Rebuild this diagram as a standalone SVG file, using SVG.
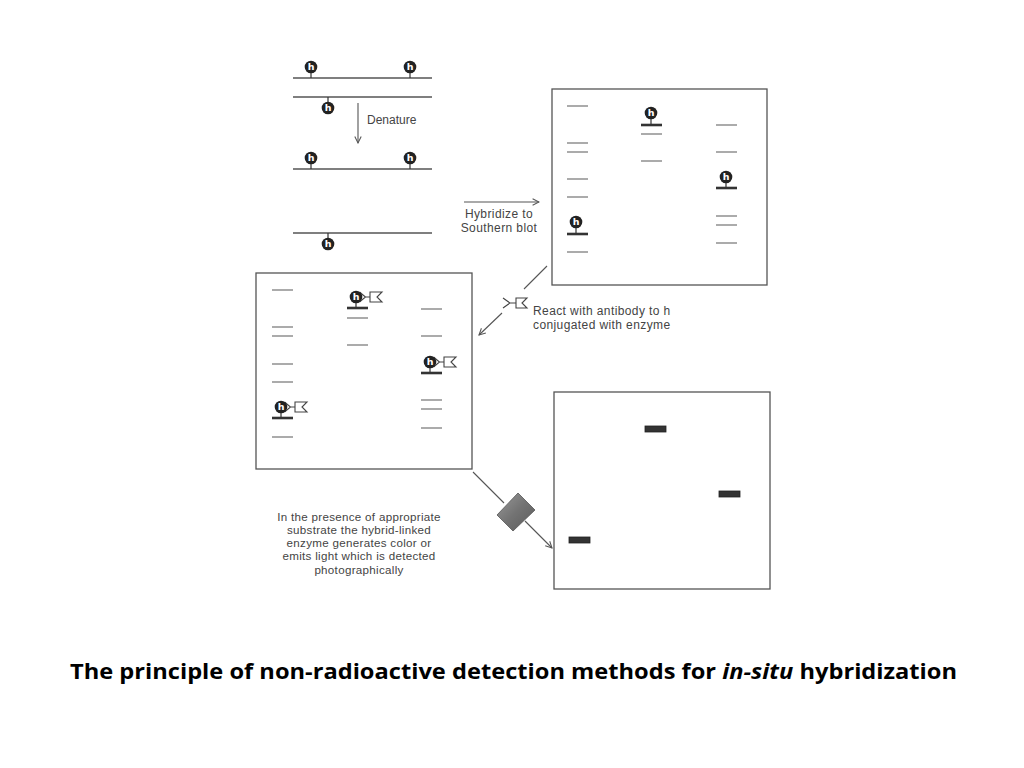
<svg xmlns="http://www.w3.org/2000/svg" xmlns:xlink="http://www.w3.org/1999/xlink" width="1024" height="768" viewBox="0 0 1024 768">
<style>
.strand{stroke:#555;stroke-width:1.3;fill:none}
.stem{stroke:#333;stroke-width:1.2}
.band{stroke:#666;stroke-width:1.1}
.thick{stroke:#333;stroke-width:2.6}
.blot{fill:#fff;stroke:#555;stroke-width:1.3}
.conn{stroke:#555;stroke-width:1.1;fill:none}
.lbl{font-family:"Liberation Sans",Arial,sans-serif;font-size:12px;fill:#444}
.lbl2{font-family:"Liberation Sans",Arial,sans-serif;font-size:11.6px;fill:#444}
.cap{font-family:"Open Sans","Liberation Sans",sans-serif;font-size:22px;font-weight:bold;fill:#000}
.ab{stroke:#444;stroke-width:1.1;fill:#fff}
.spot{fill:#333;stroke:#222;stroke-width:0.8}
</style>
<defs>
<g id="h">
<circle r="6.3" fill="#222"/>
<text y="3.4" text-anchor="middle" font-family="'DejaVu Sans',sans-serif" font-size="9.5" font-weight="bold" fill="#fff">h</text>
</g>
<g id="abz">
<path d="M3.5,-5 L9.5,0 L3.5,5 M9.5,0 H14" class="ab" fill="none"/>
<path d="M14,-5 H26 L21,0 L26,5 H14 Z" class="ab"/>
</g>
<marker id="arr" viewBox="0 0 10 10" refX="9" refY="5" markerWidth="8" markerHeight="8" orient="auto" markerUnits="userSpaceOnUse">
<path d="M1,1 L9,5 L1,9" fill="none" stroke="#555" stroke-width="1.3"/>
</marker>
<linearGradient id="dg" x1="0" y1="0" x2="1" y2="1">
<stop offset="0" stop-color="#9a9a9a"/>
<stop offset="0.5" stop-color="#737373"/>
<stop offset="1" stop-color="#5a5a5a"/>
</linearGradient>
</defs>

<g id="dna-double">
<line class="strand" x1="293" y1="78" x2="432" y2="78"/>
<line class="stem" x1="311" y1="73" x2="311" y2="78"/>
<use xlink:href="#h" x="311" y="67"/>
<line class="stem" x1="410" y1="73" x2="410" y2="78"/>
<use xlink:href="#h" x="410" y="67"/>
<line class="strand" x1="293" y1="97" x2="432" y2="97"/>
<line class="stem" x1="328" y1="97" x2="328" y2="102"/>
<use xlink:href="#h" x="328" y="108"/>
</g>

<g id="denature">
<text class="lbl" x="367" y="124">Denature</text>
</g>

<g id="strand-a">
<line class="strand" x1="293" y1="169" x2="432" y2="169"/>
<line class="stem" x1="311" y1="164" x2="311" y2="169"/>
<use xlink:href="#h" x="311" y="158"/>
<line class="stem" x1="410" y1="164" x2="410" y2="169"/>
<use xlink:href="#h" x="410" y="158"/>
</g>

<g id="strand-b">
<line class="strand" x1="293" y1="233" x2="432" y2="233"/>
<line class="stem" x1="328" y1="233" x2="328" y2="238"/>
<use xlink:href="#h" x="328" y="244"/>
</g>

<g id="hybridize-label">
<text class="lbl" x="499" y="218" text-anchor="middle" letter-spacing="0.4">Hybridize to</text>
<text class="lbl" x="499" y="232" text-anchor="middle" letter-spacing="0.4">Southern blot</text>
</g>

<g id="blot-hybridized">
<rect class="blot" x="552" y="89" width="215" height="196"/>
<line class="band" x1="567" y1="106" x2="588" y2="106"/>
<line class="band" x1="567" y1="143" x2="588" y2="143"/>
<line class="band" x1="567" y1="152" x2="588" y2="152"/>
<line class="band" x1="567" y1="179" x2="588" y2="179"/>
<line class="band" x1="567" y1="197" x2="588" y2="197"/>
<line class="thick" x1="567" y1="234" x2="588" y2="234"/>
<line class="stem" x1="576" y1="228" x2="576" y2="234"/>
<use xlink:href="#h" x="576" y="222"/>
<line class="band" x1="567" y1="252" x2="588" y2="252"/>
<line class="thick" x1="641" y1="125" x2="662" y2="125"/>
<line class="stem" x1="651" y1="119" x2="651" y2="125"/>
<use xlink:href="#h" x="651" y="113"/>
<line class="band" x1="641" y1="134" x2="662" y2="134"/>
<line class="band" x1="641" y1="161" x2="662" y2="161"/>
<line class="band" x1="716" y1="125" x2="737" y2="125"/>
<line class="band" x1="716" y1="152" x2="737" y2="152"/>
<line class="thick" x1="716" y1="188" x2="737" y2="188"/>
<line class="stem" x1="726" y1="182" x2="726" y2="188"/>
<use xlink:href="#h" x="726" y="177"/>
<line class="band" x1="716" y1="216" x2="737" y2="216"/>
<line class="band" x1="716" y1="225" x2="737" y2="225"/>
<line class="band" x1="716" y1="243" x2="737" y2="243"/>
</g>

<g id="antibody-label">
<path d="M503,298 L510,303 L503,308 M510,303 H516" class="ab" fill="none"/>
<path d="M516,298 H527 L522,303 L527,308 H516 Z" class="ab"/>
<text class="lbl" x="533" y="315" letter-spacing="0.4">React with antibody to h</text>
<text class="lbl" x="533" y="329" letter-spacing="0.4">conjugated with enzyme</text>
</g>

<g id="blot-antibody">
<rect class="blot" x="256" y="273" width="216" height="196"/>
<line class="band" x1="272" y1="290" x2="293" y2="290"/>
<line class="band" x1="272" y1="327" x2="293" y2="327"/>
<line class="band" x1="272" y1="336" x2="293" y2="336"/>
<line class="band" x1="272" y1="364" x2="293" y2="364"/>
<line class="band" x1="272" y1="382" x2="293" y2="382"/>
<line class="thick" x1="272" y1="418" x2="293" y2="418"/>
<line class="stem" x1="281" y1="413" x2="281" y2="418"/>
<use xlink:href="#abz" x="281" y="407"/>
<use xlink:href="#h" x="281" y="407"/>
<line class="band" x1="272" y1="437" x2="293" y2="437"/>
<line class="thick" x1="347" y1="308" x2="368" y2="308"/>
<line class="stem" x1="356" y1="303" x2="356" y2="308"/>
<use xlink:href="#abz" x="356" y="297"/>
<use xlink:href="#h" x="356" y="297"/>
<line class="band" x1="347" y1="318" x2="368" y2="318"/>
<line class="band" x1="347" y1="345" x2="368" y2="345"/>
<line class="band" x1="421" y1="309" x2="442" y2="309"/>
<line class="band" x1="421" y1="336" x2="442" y2="336"/>
<line class="thick" x1="421" y1="373" x2="442" y2="373"/>
<line class="stem" x1="430" y1="368" x2="430" y2="373"/>
<use xlink:href="#abz" x="430" y="362"/>
<use xlink:href="#h" x="430" y="362"/>
<line class="band" x1="421" y1="400" x2="442" y2="400"/>
<line class="band" x1="421" y1="409" x2="442" y2="409"/>
<line class="band" x1="421" y1="428" x2="442" y2="428"/>
</g>

<g id="enzyme">
<polygon points="518,493 535,510 513,531 497,515" fill="url(#dg)" stroke="#555" stroke-width="0.8"/>
</g>

<g id="detection-label">
<text class="lbl2" x="359" y="521" text-anchor="middle" letter-spacing="0.3">In the presence of appropriate</text>
<text class="lbl2" x="359" y="534" text-anchor="middle" letter-spacing="0.3">substrate the hybrid-linked</text>
<text class="lbl2" x="359" y="547" text-anchor="middle" letter-spacing="0.3">enzyme generates color or</text>
<text class="lbl2" x="359" y="560" text-anchor="middle" letter-spacing="0.3">emits light which is detected</text>
<text class="lbl2" x="359" y="574" text-anchor="middle" letter-spacing="0.3">photographically</text>
</g>

<g id="blot-detected">
<rect class="blot" x="554" y="392" width="216" height="197"/>
<rect class="spot" x="645" y="426" width="21" height="6"/>
<rect class="spot" x="719" y="491" width="21" height="6"/>
<rect class="spot" x="569" y="537" width="21" height="6"/>
</g>

<g id="connectors">
<line class="conn" x1="358" y1="103" x2="358" y2="143" marker-end="url(#arr)"/>
<line class="conn" x1="464" y1="202" x2="539" y2="202" marker-end="url(#arr)"/>
<line class="conn" x1="547" y1="266" x2="524" y2="289"/>
<line class="conn" x1="502" y1="313" x2="479" y2="335" marker-end="url(#arr)"/>
<line class="conn" x1="473" y1="472" x2="504" y2="503"/>
<line class="conn" x1="525" y1="521" x2="552" y2="548" marker-end="url(#arr)"/>
</g>

<g id="caption">
<text class="cap" x="70" y="679" textLength="887" lengthAdjust="spacingAndGlyphs">The principle of non-radioactive detection methods for <tspan font-style="italic">in-situ</tspan> hybridization</text>
</g>
</svg>
